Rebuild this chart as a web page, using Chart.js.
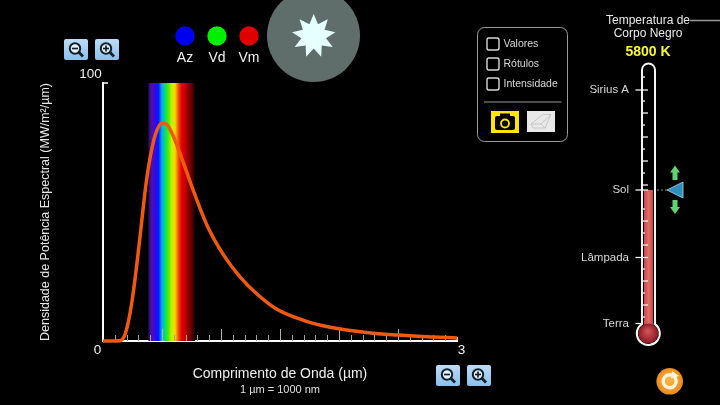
<!DOCTYPE html>
<html>
<head>
<meta charset="utf-8">
<title>Espectro de corpo negro</title>
<script src="https://cdn.jsdelivr.net/npm/chart.js@4"></script>
<style>
html, body { margin: 0; padding: 0; background: #000; }
canvas { display: block; }
</style>
</head>
<body>
<canvas id="chartCorpoNegro" width="720" height="405"></canvas>
<script>
// values
const wavelength = [0, 0.1, 0.15, 0.19, 0.23, 0.26, 0.29, 0.32, 0.365, 0.416, 0.46, 0.5, 0.54, 0.585, 0.67, 0.78, 0.88, 1.02, 1.163, 1.3, 1.47, 1.7, 1.925, 2.25, 2.5, 2.75, 3];
const power = [0, 0, 0.2, 3, 11, 20, 31, 43, 61, 75, 82, 84.5, 84, 80.5, 70.5, 56.5, 45, 33.5, 24.8, 18.4, 12.4, 8, 5.3, 3.2, 2.3, 1.6, 1.2];
const xTickLabels = ['0', '3'];
const yTickLabels = ['100'];
const spectrumRange = [0.385, 0.78];
const spectrumColors = ['#2e0a5c', '#4a10b0', '#3a06e8', '#0018ff', '#00a8f0', '#00e070', '#50ee00', '#c8f000', '#f8d800', '#f05000', '#e00000', '#c80000', '#8a0000', '#5a0000', '#120000'];
const colorLabels = ['Az', 'Vd', 'Vm'];
const colorValues = ['#0000f0', '#00f000', '#e00000'];
const checkLabels = ['Valores', 'Rótulos', 'Intensidade'];
const thermoLabels = ['Sirius A', 'Sol', 'Lâmpada', 'Terra'];
const thermoLabelY = [90, 190, 257.5, 323.5];

const FONT = '"Liberation Sans", Arial, sans-serif';

function label(ctx, text, x, y, size, color, align, weight) {
	ctx.font = (weight || 'normal') + ' ' + size + 'px ' + FONT;
	ctx.fillStyle = color;
	ctx.textAlign = align || 'center';
	ctx.textBaseline = 'middle';
	ctx.fillText(text, x, y);
}

function roundBox(ctx, x, y, w, h, r) {
	ctx.beginPath();
	ctx.roundRect(x, y, w, h, r);
}

function line(ctx, x1, y1, x2, y2, color, width) {
	ctx.strokeStyle = color;
	ctx.lineWidth = width;
	ctx.beginPath();
	ctx.moveTo(x1, y1);
	ctx.lineTo(x2, y2);
	ctx.stroke();
}

function zoomButton(ctx, x, y, plus) {
	const g = ctx.createLinearGradient(0, y, 0, y + 21);
	g.addColorStop(0, '#bcdcf6');
	g.addColorStop(1, '#8cc0ec');
	ctx.fillStyle = g;
	roundBox(ctx, x, y, 24, 21, 2);
	ctx.fill();
	const cx = x + 11, cy = y + 9.5;
	ctx.strokeStyle = '#10202c';
	ctx.lineWidth = 2;
	ctx.fillStyle = '#e8f2fa';
	ctx.beginPath();
	ctx.arc(cx, cy, 5.2, 0, Math.PI * 2);
	ctx.fill();
	ctx.stroke();
	line(ctx, cx + 3.6, cy + 3.6, cx + 8, cy + 8, '#10202c', 2.8);
	line(ctx, cx - 3, cy, cx + 3, cy, '#10202c', 1.7);
	if (plus) line(ctx, cx, cy - 3, cx, cy + 3, '#10202c', 1.7);
}

function drawSpectrum(chart) {
	const ctx = chart.ctx;
	const x = chart.scales.x, y = chart.scales.y;
	const x1 = x.getPixelForValue(spectrumRange[0]);
	const x2 = x.getPixelForValue(spectrumRange[1]);
	const g = ctx.createLinearGradient(x1, 0, x2, 0);
	spectrumColors.forEach((c, i) => g.addColorStop(i / (spectrumColors.length - 1), c));
	ctx.fillStyle = g;
	ctx.fillRect(x1, y.getPixelForValue(100), x2 - x1, y.getPixelForValue(0) - y.getPixelForValue(100));
}

function drawAxisMarks(chart) {
	const ctx = chart.ctx;
	const x = chart.scales.x, y = chart.scales.y;
	const base = y.getPixelForValue(0);
	x.ticks.forEach(t => {
		const tenth = Math.round(t.value * 10);
		if (tenth === 0 || tenth === 30) return;
		const major = tenth % 5 === 0;
		const px = Math.round(x.getPixelForValue(t.value)) + 0.5;
		line(ctx, px, base, px, base - (major ? 12 : 6), major ? '#b0b0b0' : '#a0a0a0', 1);
	});
	const top = y.getPixelForValue(100);
	line(ctx, x.left, top, x.left + 5, top, '#fff', 1.5);
	line(ctx, x.right, base, x.right, base - 4, '#fff', 1.5);
	label(ctx, xTickLabels[0], x.getPixelForValue(0) - 5.5, 350, 13.5, '#f0f0f0');
	label(ctx, xTickLabels[1], x.getPixelForValue(3) + 4.5, 350, 13.5, '#f0f0f0');
	label(ctx, yTickLabels[0], x.left - 12.5, 74.5, 13.5, '#f0f0f0');
	label(ctx, '1 µm = 1000 nm', 280, 389.5, 11, '#e0e0e0');
}

function drawColorDots(ctx) {
	[185, 217, 249].forEach((cx, i) => {
		ctx.fillStyle = colorValues[i];
		ctx.beginPath();
		ctx.arc(cx, 36, 9.7, 0, Math.PI * 2);
		ctx.fill();
		label(ctx, colorLabels[i], cx, 58.5, 14, '#f0f0f0');
	});
}

function drawStar(ctx) {
	ctx.fillStyle = '#5f6d6b';
	ctx.beginPath();
	ctx.arc(313.5, 35.5, 46.5, 0, Math.PI * 2);
	ctx.fill();
	ctx.fillStyle = '#e6ffff';
	ctx.beginPath();
	for (let i = 0; i < 18; i++) {
		const a = -Math.PI / 2 + i * Math.PI / 9;
		const r = i % 2 ? 12.5 : 22;
		ctx.lineTo(313.7 + r * Math.cos(a), 36 + r * Math.sin(a));
	}
	ctx.closePath();
	ctx.fill();
}

function drawPanel(ctx) {
	ctx.strokeStyle = '#9a9a9a';
	ctx.lineWidth = 1;
	roundBox(ctx, 477.5, 27.5, 90, 114, 7);
	ctx.stroke();
	checkLabels.forEach((t, i) => {
		const cy = 44 + i * 20;
		ctx.strokeStyle = '#d8d8d8';
		ctx.lineWidth = 1.4;
		roundBox(ctx, 487, cy - 6, 12, 12, 2);
		ctx.stroke();
		label(ctx, t, 503.5, cy, 10.5, '#d8d8d8', 'left');
	});
	line(ctx, 484, 102, 561.5, 102, '#666', 1.5);
	// camera button
	ctx.fillStyle = '#ffe600';
	ctx.fillRect(491, 111, 28, 22);
	ctx.fillStyle = '#000';
	roundBox(ctx, 495, 116, 20, 14, 2);
	ctx.fill();
	ctx.fillRect(500, 113.5, 10, 4);
	ctx.strokeStyle = '#ffe600';
	ctx.lineWidth = 1.8;
	ctx.beginPath();
	ctx.arc(505, 123.5, 4, 0, Math.PI * 2);
	ctx.stroke();
	// eraser button
	ctx.fillStyle = '#e8e8e8';
	ctx.fillRect(527, 111, 28, 21);
	ctx.strokeStyle = '#c8c8c8';
	ctx.lineWidth = 1;
	ctx.beginPath();
	ctx.moveTo(531, 124);
	ctx.lineTo(543, 114.5);
	ctx.lineTo(551, 114.5);
	ctx.lineTo(545, 128);
	ctx.lineTo(533, 128);
	ctx.closePath();
	ctx.moveTo(531, 124);
	ctx.lineTo(541, 124);
	ctx.lineTo(551, 114.5);
	ctx.moveTo(541, 124);
	ctx.lineTo(545, 128);
	ctx.stroke();
}

function drawThermometer(ctx) {
	label(ctx, 'Temperatura de', 648, 20.5, 12, '#e8e8e8');
	label(ctx, 'Corpo Negro', 648, 33.5, 12, '#e8e8e8');
	line(ctx, 690, 20.5, 720, 20.5, '#999', 1.5);
	label(ctx, '5800 K', 648, 52.5, 14, '#f8f830', 'center', 'bold');

	// mercury
	const m = ctx.createLinearGradient(644, 0, 653, 0);
	m.addColorStop(0, '#c04848');
	m.addColorStop(0.5, '#e86a66');
	m.addColorStop(1, '#c04848');
	ctx.fillStyle = m;
	ctx.fillRect(644, 190, 9, 135);
	const bulb = ctx.createRadialGradient(648, 331, 1, 648.3, 333.5, 10);
	bulb.addColorStop(0, '#d05058');
	bulb.addColorStop(1, '#8a1a22');
	ctx.fillStyle = bulb;
	ctx.beginPath();
	ctx.arc(648.3, 333.5, 10, 0, Math.PI * 2);
	ctx.fill();

	// tube
	ctx.strokeStyle = '#f4f4f4';
	ctx.lineWidth = 2;
	ctx.beginPath();
	ctx.moveTo(642, 324);
	ctx.lineTo(642, 70);
	ctx.arc(648.5, 70, 6.5, Math.PI, 0);
	ctx.lineTo(655, 324);
	ctx.arc(648.3, 333.5, 11.5, -0.96, Math.PI + 0.96);
	ctx.closePath();
	ctx.stroke();

	// scale marks
	[77, 101, 125, 149, 173, 209, 233, 269, 293, 317].forEach(y => line(ctx, 642, y, 645, y, '#f4f4f4', 1.3));
	[113, 137, 161, 185, 221, 245, 281, 305].forEach(y => line(ctx, 642, y, 648, y, '#f4f4f4', 1.3));
	thermoLabels.forEach((t, i) => {
		const y = thermoLabelY[i];
		line(ctx, 635.5, y, i === 3 ? 642 : 648, y, '#f4f4f4', 1.3);
		label(ctx, t, 629, y, 11.5, '#d8d8d8', 'right');
	});

	// slider
	ctx.setLineDash([2, 2]);
	line(ctx, 657, 190, 667, 190, '#888', 1);
	ctx.setLineDash([]);
	ctx.fillStyle = '#2e8fbf';
	ctx.strokeStyle = '#b8d8e8';
	ctx.lineWidth = 0.8;
	ctx.beginPath();
	ctx.moveTo(667, 190);
	ctx.lineTo(683, 182);
	ctx.lineTo(683, 198);
	ctx.closePath();
	ctx.fill();
	ctx.stroke();
	ctx.fillStyle = '#5fd36f';
	[[165.5, 180, 172.5], [214, 200, 207]].forEach(a => {
		ctx.beginPath();
		ctx.moveTo(675, a[0]);
		ctx.lineTo(680, a[2]);
		ctx.lineTo(677.5, a[2]);
		ctx.lineTo(677.5, a[1]);
		ctx.lineTo(672.5, a[1]);
		ctx.lineTo(672.5, a[2]);
		ctx.lineTo(670, a[2]);
		ctx.closePath();
		ctx.fill();
	});
}

function drawReset(ctx) {
	const g = ctx.createRadialGradient(669, 379, 3, 669.7, 381.3, 13.5);
	g.addColorStop(0, '#f8b040');
	g.addColorStop(1, '#e88a20');
	ctx.fillStyle = g;
	ctx.beginPath();
	ctx.arc(669.7, 381.3, 13.3, 0, Math.PI * 2);
	ctx.fill();
	ctx.strokeStyle = '#fff4d8';
	ctx.lineWidth = 3.4;
	ctx.beginPath();
	ctx.arc(669.7, 381.3, 6.5, -0.9, Math.PI * 1.6);
	ctx.stroke();
	ctx.fillStyle = '#fff4d8';
	ctx.beginPath();
	ctx.moveTo(672, 371);
	ctx.lineTo(679, 376);
	ctx.lineTo(671, 378.5);
	ctx.closePath();
	ctx.fill();
}

const sceneBehind = {
	id: 'sceneBehind',
	beforeDatasetsDraw(chart) {
		drawSpectrum(chart);
		drawAxisMarks(chart);
	}
};

const sceneFront = {
	id: 'sceneFront',
	afterDraw(chart) {
		const ctx = chart.ctx;
		ctx.save();
		zoomButton(ctx, 64, 39, false);
		zoomButton(ctx, 95, 39, true);
		zoomButton(ctx, 436, 365, false);
		zoomButton(ctx, 467, 365, true);
		drawColorDots(ctx);
		drawStar(ctx);
		drawPanel(ctx);
		drawThermometer(ctx);
		drawReset(ctx);
		ctx.restore();
	}
};

const ctx1 = document.getElementById('chartCorpoNegro').getContext('2d');
const chartCorpoNegro = new Chart(ctx1, {
	type: 'line',
	data: {
		datasets: [
			{
				label: 'Densidade de Potência Espectral',
				data: wavelength.map((w, i) => ({ x: w, y: power[i] })),
				borderColor: '#f0590f',
				borderWidth: 3.5,
				pointRadius: 0,
				fill: false,
				cubicInterpolationMode: 'monotone',
				clip: false
			}
		]
	},
	plugins: [sceneBehind, sceneFront],
	options: {
		responsive: false,
		animation: false,
		layout: { padding: { left: 0, right: 263, top: 83, bottom: 22 } },
		plugins: { legend: { display: false }, tooltip: { enabled: false } },
		scales: {
			x: {
				type: 'linear',
				min: 0,
				max: 3,
				afterFit(s) { s.height = 42; },
				border: { display: true, color: '#fff', width: 2 },
				grid: { display: false },
				ticks: { display: false, stepSize: 0.1, autoSkip: false },
				title: {
					display: true,
					text: 'Comprimento de Onda (µm)',
					color: '#f0f0f0',
					font: { family: FONT, size: 14 },
					padding: { top: 0, bottom: 0 }
				}
			},
			y: {
				min: 0,
				max: 100,
				afterFit(s) { s.width = 103; },
				border: { display: true, color: '#fff', width: 2 },
				grid: { display: false },
				ticks: { display: false },
				title: {
					display: true,
					text: 'Densidade de Potência Espectral (MW/m²/µm)',
					color: '#e8e8e8',
					font: { family: FONT, size: 12.5 },
					padding: { top: 38, bottom: 0 }
				}
			}
		}
	}
});
</script>
</body>
</html>
